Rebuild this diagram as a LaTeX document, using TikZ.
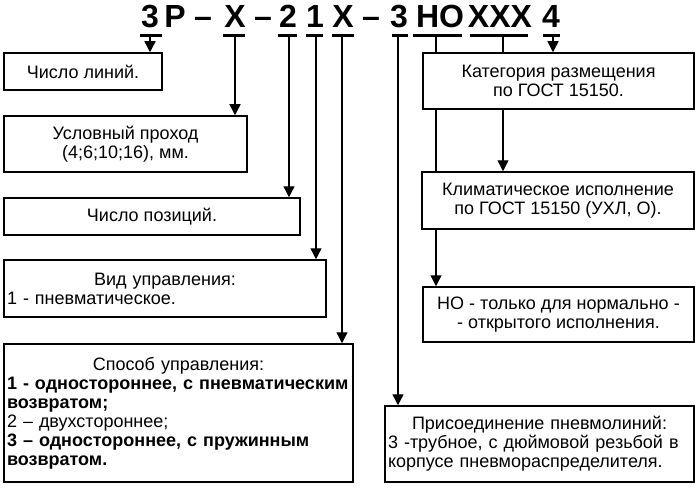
\documentclass[tikz,border=0pt]{standalone}
\usepackage{fontspec}
\setmainfont{Liberation Sans}
\usetikzlibrary{arrows.meta,backgrounds}
\begin{document}
\begin{tikzpicture}[x=1pt,y=-1pt,
  box/.style={draw,line width=1.5pt,fill=white,inner sep=0pt,
    font=\fontsize{18}{19}\selectfont,align=center},
  lbox/.style={box,align=left},
  conn/.style={line width=1.4pt,-{Triangle[length=11pt,width=11pt]}},
  uline/.style={line width=3pt},
  hdr/.style={anchor=base,inner sep=0pt,font=\fontsize{32}{32}\selectfont\bfseries}]
\useasboundingbox (0,0) rectangle (695,492);

% header code
\node[hdr] (h1) at (150,28) {3};
\node[hdr] (h2) at (175,28) {Р};
\node[hdr] (h3) at (203,28) {–};
\node[hdr] (h4) at (235,28) {Х};
\node[hdr] (h5) at (263,28) {–};
\node[hdr] (h6) at (288,28) {2};
\node[hdr] (h7) at (315,28) {1};
\node[hdr] (h8) at (343,28) {Х};
\node[hdr] (h9) at (371,28) {–};
\node[hdr] (h10) at (399,28) {3};
\node[hdr] (h11) at (440,28) {НО};
\node[hdr] (h12) at (500,28) {ХХХ};
\node[hdr] (h13) at (551,28) {4};

% underlines
\draw[uline] (140,36) -- (162,36);
\draw[uline] (223,36) -- (245,36);
\draw[uline] (278,36) -- (297,36);
\draw[uline] (306,36) -- (323,36);
\draw[uline] (332,36) -- (354,36);
\draw[uline] (392,36) -- (408,36);
\draw[uline] (413,36) -- (462,36);
\draw[uline] (470,36) -- (528,36);
\draw[uline] (543,36) -- (560,36);

\coordinate (c1) at (150,36);
\coordinate (c4) at (235,36);
\coordinate (c6) at (289,36);
\coordinate (c7) at (316,36);
\coordinate (c8) at (342,36);
\coordinate (c10) at (398,36);
\coordinate (c11) at (436,36);
\coordinate (c12) at (503,36);
\coordinate (c13) at (553,36);

% boxes
\node[box,minimum width=158pt,minimum height=37pt] (b1) at (83,71.5) {Число линий.};
\node[box,minimum width=243pt,minimum height=56pt] (b2) at (125.5,144)
  {Условный проход\\(4;6;10;16), мм.};
\node[box,minimum width=296pt,minimum height=37pt] (b3) at (152,216.5) {Число позиций.};
\node[lbox,text width=316pt,minimum width=322pt,minimum height=57pt] (b4) at (165,288.5)
  {\makebox[316pt]{Вид управления:}\\1 - пневматическое.};
\node[lbox,text width=343pt,minimum width=349pt,minimum height=138pt] (b5) at (178.5,413)
  {\makebox[343pt]{Способ управления:}\\
   \textbf{1 - одностороннее, с пневматическим}\\
   \textbf{возвратом;}\\
   2 – двухстороннее;\\
   \textbf{3 – одностороннее, с пружинным}\\
   \textbf{возвратом.}};
\node[box,minimum width=271pt,minimum height=56pt] (b6) at (558.5,81)
  {Категория размещения\\по ГОСТ 15150.};
\node[box,minimum width=272pt,minimum height=57pt] (b7) at (558,200.5)
  {Климатическое исполнение\\по ГОСТ 15150 (УХЛ, О).};
\node[box,minimum width=271pt,minimum height=55pt] (b8) at (558.5,314.5)
  {НО - только для нормально -\\- открытого исполнения.};
\node[lbox,text width=303pt,minimum width=309pt,minimum height=76pt] (b9) at (539.5,444)
  {\makebox[303pt]{Присоединение пневмолиний:}\\
   3 -трубное, с дюймовой резьбой в\\
   корпусе пневмораспределителя.};

% connectors
\begin{pgfonlayer}{background}
\draw[conn] (c1) -- (c1 |- b1.north);
\draw[conn] (c4) -- (c4 |- b2.north);
\draw[conn] (c6) -- (c6 |- b3.north);
\draw[conn] (c7) -- (c7 |- b4.north);
\draw[conn] (c8) -- (c8 |- b5.north);
\draw[conn] (c10) -- (c10 |- b9.north);
\draw[conn] (c11) -- (c11 |- b8.north);
\draw[conn] (c12) -- (c12 |- b7.north);
\draw[conn] (c13) -- (c13 |- b6.north);
\end{pgfonlayer}
\end{tikzpicture}
\end{document}
